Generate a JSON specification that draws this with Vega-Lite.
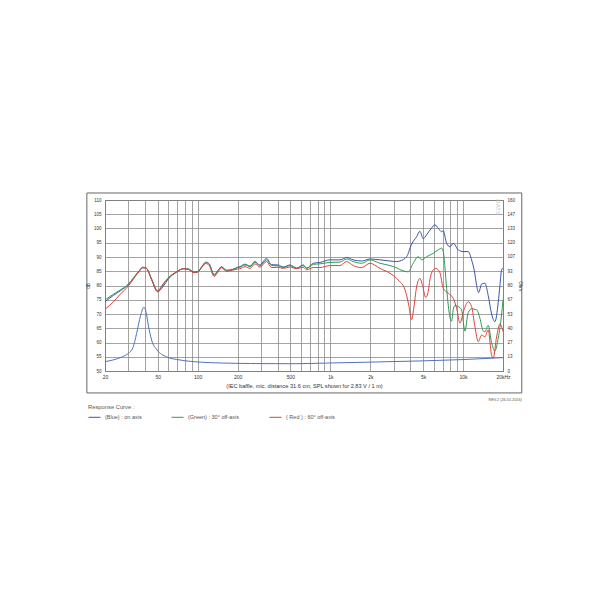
{
  "$schema": "https://vega.github.io/schema/vega-lite/v6.json",
  "width": 398,
  "height": 171,
  "autosize": {"type": "none"},
  "padding": {"left": 105, "top": 200, "right": 107, "bottom": 239},
  "background": "white",
  "config": {
    "view": {"stroke": "#555", "strokeWidth": 1},
    "font": "Liberation Sans",
    "axis": {"labelFont": "Liberation Sans", "titleFont": "Liberation Sans", "labelColor": "#333", "titleColor": "#333", "titleFontWeight": "normal", "ticks": false, "domain": false}
  },
  "datasets": {
    "spl": [
      {"f": 20, "v": 74.3, "s": "(Blue) : on axis"}, {"f": 23.1, "v": 76.5, "s": "(Blue) : on axis"}, {"f": 26, "v": 78.1, "s": "(Blue) : on axis"}, {"f": 30, "v": 80.4, "s": "(Blue) : on axis"}, {"f": 33, "v": 82.8, "s": "(Blue) : on axis"}, {"f": 36, "v": 85, "s": "(Blue) : on axis"}, {"f": 38.5, "v": 86.4, "s": "(Blue) : on axis"}, {"f": 41, "v": 86.1, "s": "(Blue) : on axis"}, {"f": 44.9, "v": 82, "s": "(Blue) : on axis"}, {"f": 49.8, "v": 77.8, "s": "(Blue) : on axis"}, {"f": 54.7, "v": 79.6, "s": "(Blue) : on axis"}, {"f": 60, "v": 82.3, "s": "(Blue) : on axis"}, {"f": 69, "v": 84.6, "s": "(Blue) : on axis"}, {"f": 78, "v": 85.9, "s": "(Blue) : on axis"}, {"f": 85, "v": 85.8, "s": "(Blue) : on axis"}, {"f": 94, "v": 84.7, "s": "(Blue) : on axis"}, {"f": 100, "v": 84.9, "s": "(Blue) : on axis"}, {"f": 108, "v": 86.8, "s": "(Blue) : on axis"}, {"f": 115, "v": 88.2, "s": "(Blue) : on axis"}, {"f": 122, "v": 87.6, "s": "(Blue) : on axis"}, {"f": 133, "v": 83.6, "s": "(Blue) : on axis"}, {"f": 142, "v": 85.2, "s": "(Blue) : on axis"}, {"f": 151, "v": 86.6, "s": "(Blue) : on axis"}, {"f": 165, "v": 85.2, "s": "(Blue) : on axis"}, {"f": 184, "v": 85.7, "s": "(Blue) : on axis"}, {"f": 200, "v": 86.4, "s": "(Blue) : on axis"}, {"f": 208, "v": 86.6, "s": "(Blue) : on axis"}, {"f": 227, "v": 87.5, "s": "(Blue) : on axis"}, {"f": 248, "v": 86.8, "s": "(Blue) : on axis"}, {"f": 270, "v": 88.4, "s": "(Blue) : on axis"}, {"f": 294, "v": 87.2, "s": "(Blue) : on axis"}, {"f": 330, "v": 89.5, "s": "(Blue) : on axis"}, {"f": 360, "v": 87.3, "s": "(Blue) : on axis"}, {"f": 404, "v": 87.2, "s": "(Blue) : on axis"}, {"f": 441, "v": 86.5, "s": "(Blue) : on axis"}, {"f": 496, "v": 87.2, "s": "(Blue) : on axis"}, {"f": 557, "v": 86.1, "s": "(Blue) : on axis"}, {"f": 624, "v": 87.2, "s": "(Blue) : on axis"}, {"f": 662, "v": 86.1, "s": "(Blue) : on axis"}, {"f": 743, "v": 87.8, "s": "(Blue) : on axis"}, {"f": 834, "v": 88.1, "s": "(Blue) : on axis"}, {"f": 992, "v": 89, "s": "(Blue) : on axis"}, {"f": 1180, "v": 89, "s": "(Blue) : on axis"}, {"f": 1326, "v": 89.8, "s": "(Blue) : on axis"}, {"f": 1486, "v": 89, "s": "(Blue) : on axis"}, {"f": 1720, "v": 88.6, "s": "(Blue) : on axis"}, {"f": 1986, "v": 89.3, "s": "(Blue) : on axis"}, {"f": 2363, "v": 89, "s": "(Blue) : on axis"}, {"f": 2811, "v": 88.6, "s": "(Blue) : on axis"}, {"f": 3156, "v": 88.4, "s": "(Blue) : on axis"}, {"f": 3342, "v": 88.6, "s": "(Blue) : on axis"}, {"f": 3755, "v": 90.1, "s": "(Blue) : on axis"}, {"f": 4094, "v": 94.5, "s": "(Blue) : on axis"}, {"f": 4464, "v": 97.1, "s": "(Blue) : on axis"}, {"f": 4730, "v": 99, "s": "(Blue) : on axis"}, {"f": 5008, "v": 96.4, "s": "(Blue) : on axis"}, {"f": 5313, "v": 97.8, "s": "(Blue) : on axis"}, {"f": 5795, "v": 100.2, "s": "(Blue) : on axis"}, {"f": 6136, "v": 101.3, "s": "(Blue) : on axis"}, {"f": 6498, "v": 100.1, "s": "(Blue) : on axis"}, {"f": 6893, "v": 98.9, "s": "(Blue) : on axis"}, {"f": 7087, "v": 99.2, "s": "(Blue) : on axis"}, {"f": 7518, "v": 94.8, "s": "(Blue) : on axis"}, {"f": 7960, "v": 93.6, "s": "(Blue) : on axis"}, {"f": 8430, "v": 94.8, "s": "(Blue) : on axis"}, {"f": 9195, "v": 92.5, "s": "(Blue) : on axis"}, {"f": 10025, "v": 91.9, "s": "(Blue) : on axis"}, {"f": 10935, "v": 91.9, "s": "(Blue) : on axis"}, {"f": 11600, "v": 89, "s": "(Blue) : on axis"}, {"f": 12285, "v": 84, "s": "(Blue) : on axis"}, {"f": 12650, "v": 80, "s": "(Blue) : on axis"}, {"f": 13100, "v": 77.5, "s": "(Blue) : on axis"}, {"f": 13800, "v": 80.5, "s": "(Blue) : on axis"}, {"f": 14615, "v": 80.8, "s": "(Blue) : on axis"}, {"f": 15470, "v": 76.5, "s": "(Blue) : on axis"}, {"f": 16410, "v": 70, "s": "(Blue) : on axis"}, {"f": 17380, "v": 67.3, "s": "(Blue) : on axis"}, {"f": 18405, "v": 74, "s": "(Blue) : on axis"}, {"f": 18960, "v": 80, "s": "(Blue) : on axis"}, {"f": 19530, "v": 85.5, "s": "(Blue) : on axis"}, {"f": 20000, "v": 86.2, "s": "(Blue) : on axis"},
      {"f": 20, "v": 75, "s": "(Green) : 30° off-axis"}, {"f": 23.1, "v": 76.9, "s": "(Green) : 30° off-axis"}, {"f": 26, "v": 78.4, "s": "(Green) : 30° off-axis"}, {"f": 30, "v": 80.5, "s": "(Green) : 30° off-axis"}, {"f": 33, "v": 82.8, "s": "(Green) : 30° off-axis"}, {"f": 36, "v": 85, "s": "(Green) : 30° off-axis"}, {"f": 38.5, "v": 86.3, "s": "(Green) : 30° off-axis"}, {"f": 41, "v": 86, "s": "(Green) : 30° off-axis"}, {"f": 44.9, "v": 82.3, "s": "(Green) : 30° off-axis"}, {"f": 49.8, "v": 78.2, "s": "(Green) : 30° off-axis"}, {"f": 54.7, "v": 80.2, "s": "(Green) : 30° off-axis"}, {"f": 60, "v": 82.6, "s": "(Green) : 30° off-axis"}, {"f": 69, "v": 84.7, "s": "(Green) : 30° off-axis"}, {"f": 78, "v": 85.9, "s": "(Green) : 30° off-axis"}, {"f": 85, "v": 85.7, "s": "(Green) : 30° off-axis"}, {"f": 94, "v": 84.6, "s": "(Green) : 30° off-axis"}, {"f": 100, "v": 84.8, "s": "(Green) : 30° off-axis"}, {"f": 108, "v": 86.7, "s": "(Green) : 30° off-axis"}, {"f": 115, "v": 88, "s": "(Green) : 30° off-axis"}, {"f": 122, "v": 87.4, "s": "(Green) : 30° off-axis"}, {"f": 133, "v": 83.9, "s": "(Green) : 30° off-axis"}, {"f": 142, "v": 85.3, "s": "(Green) : 30° off-axis"}, {"f": 151, "v": 86.5, "s": "(Green) : 30° off-axis"}, {"f": 165, "v": 85.4, "s": "(Green) : 30° off-axis"}, {"f": 184, "v": 85.6, "s": "(Green) : 30° off-axis"}, {"f": 200, "v": 86.3, "s": "(Green) : 30° off-axis"}, {"f": 208, "v": 86.4, "s": "(Green) : 30° off-axis"}, {"f": 227, "v": 87.2, "s": "(Green) : 30° off-axis"}, {"f": 248, "v": 86.6, "s": "(Green) : 30° off-axis"}, {"f": 270, "v": 88.2, "s": "(Green) : 30° off-axis"}, {"f": 294, "v": 86.9, "s": "(Green) : 30° off-axis"}, {"f": 330, "v": 89, "s": "(Green) : 30° off-axis"}, {"f": 360, "v": 87, "s": "(Green) : 30° off-axis"}, {"f": 404, "v": 86.9, "s": "(Green) : 30° off-axis"}, {"f": 441, "v": 86.3, "s": "(Green) : 30° off-axis"}, {"f": 496, "v": 87, "s": "(Green) : 30° off-axis"}, {"f": 557, "v": 86, "s": "(Green) : 30° off-axis"}, {"f": 624, "v": 87, "s": "(Green) : 30° off-axis"}, {"f": 662, "v": 86, "s": "(Green) : 30° off-axis"}, {"f": 743, "v": 87.4, "s": "(Green) : 30° off-axis"}, {"f": 834, "v": 87.6, "s": "(Green) : 30° off-axis"}, {"f": 992, "v": 88.1, "s": "(Green) : 30° off-axis"}, {"f": 1180, "v": 88.2, "s": "(Green) : 30° off-axis"}, {"f": 1326, "v": 89.3, "s": "(Green) : 30° off-axis"}, {"f": 1486, "v": 88.4, "s": "(Green) : 30° off-axis"}, {"f": 1720, "v": 87.8, "s": "(Green) : 30° off-axis"}, {"f": 1986, "v": 89, "s": "(Green) : 30° off-axis"}, {"f": 2363, "v": 87.8, "s": "(Green) : 30° off-axis"}, {"f": 2811, "v": 87, "s": "(Green) : 30° off-axis"}, {"f": 3156, "v": 86.2, "s": "(Green) : 30° off-axis"}, {"f": 3342, "v": 85.6, "s": "(Green) : 30° off-axis"}, {"f": 3861, "v": 84.8, "s": "(Green) : 30° off-axis"}, {"f": 4210, "v": 87.8, "s": "(Green) : 30° off-axis"}, {"f": 4592, "v": 90.1, "s": "(Green) : 30° off-axis"}, {"f": 4872, "v": 89, "s": "(Green) : 30° off-axis"}, {"f": 5313, "v": 90.1, "s": "(Green) : 30° off-axis"}, {"f": 5958, "v": 91.3, "s": "(Green) : 30° off-axis"}, {"f": 6498, "v": 92.5, "s": "(Green) : 30° off-axis"}, {"f": 6893, "v": 93.1, "s": "(Green) : 30° off-axis"}, {"f": 7087, "v": 92, "s": "(Green) : 30° off-axis"}, {"f": 7299, "v": 86.5, "s": "(Green) : 30° off-axis"}, {"f": 7518, "v": 79, "s": "(Green) : 30° off-axis"}, {"f": 7960, "v": 69, "s": "(Green) : 30° off-axis"}, {"f": 8199, "v": 67.5, "s": "(Green) : 30° off-axis"}, {"f": 8430, "v": 71.5, "s": "(Green) : 30° off-axis"}, {"f": 8682, "v": 73, "s": "(Green) : 30° off-axis"}, {"f": 9195, "v": 72.6, "s": "(Green) : 30° off-axis"}, {"f": 9750, "v": 71.4, "s": "(Green) : 30° off-axis"}, {"f": 10325, "v": 64, "s": "(Green) : 30° off-axis"}, {"f": 10935, "v": 70.5, "s": "(Green) : 30° off-axis"}, {"f": 11600, "v": 71.8, "s": "(Green) : 30° off-axis"}, {"f": 12650, "v": 71.5, "s": "(Green) : 30° off-axis"}, {"f": 13400, "v": 68.5, "s": "(Green) : 30° off-axis"}, {"f": 14190, "v": 64, "s": "(Green) : 30° off-axis"}, {"f": 14615, "v": 63.8, "s": "(Green) : 30° off-axis"}, {"f": 15470, "v": 66, "s": "(Green) : 30° off-axis"}, {"f": 16410, "v": 60, "s": "(Green) : 30° off-axis"}, {"f": 17380, "v": 57, "s": "(Green) : 30° off-axis"}, {"f": 18405, "v": 61.5, "s": "(Green) : 30° off-axis"}, {"f": 19530, "v": 70, "s": "(Green) : 30° off-axis"}, {"f": 20000, "v": 75, "s": "(Green) : 30° off-axis"},
      {"f": 20, "v": 71.7, "s": "( Red ) : 60° off-axis"}, {"f": 23.1, "v": 74.2, "s": "( Red ) : 60° off-axis"}, {"f": 26, "v": 76.9, "s": "( Red ) : 60° off-axis"}, {"f": 30, "v": 79.8, "s": "( Red ) : 60° off-axis"}, {"f": 33, "v": 82.5, "s": "( Red ) : 60° off-axis"}, {"f": 36, "v": 84.8, "s": "( Red ) : 60° off-axis"}, {"f": 38.5, "v": 86.2, "s": "( Red ) : 60° off-axis"}, {"f": 41, "v": 86, "s": "( Red ) : 60° off-axis"}, {"f": 44.9, "v": 82.2, "s": "( Red ) : 60° off-axis"}, {"f": 49.8, "v": 78, "s": "( Red ) : 60° off-axis"}, {"f": 54.7, "v": 80.5, "s": "( Red ) : 60° off-axis"}, {"f": 60, "v": 82.7, "s": "( Red ) : 60° off-axis"}, {"f": 69, "v": 84.8, "s": "( Red ) : 60° off-axis"}, {"f": 78, "v": 85.9, "s": "( Red ) : 60° off-axis"}, {"f": 85, "v": 85.6, "s": "( Red ) : 60° off-axis"}, {"f": 94, "v": 84.5, "s": "( Red ) : 60° off-axis"}, {"f": 100, "v": 84.7, "s": "( Red ) : 60° off-axis"}, {"f": 108, "v": 86.5, "s": "( Red ) : 60° off-axis"}, {"f": 115, "v": 87.7, "s": "( Red ) : 60° off-axis"}, {"f": 122, "v": 87, "s": "( Red ) : 60° off-axis"}, {"f": 133, "v": 83.2, "s": "( Red ) : 60° off-axis"}, {"f": 142, "v": 84.7, "s": "( Red ) : 60° off-axis"}, {"f": 151, "v": 86.2, "s": "( Red ) : 60° off-axis"}, {"f": 165, "v": 85, "s": "( Red ) : 60° off-axis"}, {"f": 184, "v": 85.4, "s": "( Red ) : 60° off-axis"}, {"f": 200, "v": 85.8, "s": "( Red ) : 60° off-axis"}, {"f": 208, "v": 85.9, "s": "( Red ) : 60° off-axis"}, {"f": 227, "v": 86.6, "s": "( Red ) : 60° off-axis"}, {"f": 248, "v": 86, "s": "( Red ) : 60° off-axis"}, {"f": 270, "v": 87.6, "s": "( Red ) : 60° off-axis"}, {"f": 294, "v": 86.4, "s": "( Red ) : 60° off-axis"}, {"f": 330, "v": 88.4, "s": "( Red ) : 60° off-axis"}, {"f": 360, "v": 86.3, "s": "( Red ) : 60° off-axis"}, {"f": 404, "v": 86.4, "s": "( Red ) : 60° off-axis"}, {"f": 441, "v": 86, "s": "( Red ) : 60° off-axis"}, {"f": 496, "v": 86.5, "s": "( Red ) : 60° off-axis"}, {"f": 557, "v": 85.9, "s": "( Red ) : 60° off-axis"}, {"f": 624, "v": 86.4, "s": "( Red ) : 60° off-axis"}, {"f": 662, "v": 85.5, "s": "( Red ) : 60° off-axis"}, {"f": 743, "v": 86.3, "s": "( Red ) : 60° off-axis"}, {"f": 834, "v": 86.3, "s": "( Red ) : 60° off-axis"}, {"f": 992, "v": 87, "s": "( Red ) : 60° off-axis"}, {"f": 1180, "v": 87, "s": "( Red ) : 60° off-axis"}, {"f": 1326, "v": 88.4, "s": "( Red ) : 60° off-axis"}, {"f": 1486, "v": 87, "s": "( Red ) : 60° off-axis"}, {"f": 1720, "v": 86.3, "s": "( Red ) : 60° off-axis"}, {"f": 1986, "v": 87.8, "s": "( Red ) : 60° off-axis"}, {"f": 2363, "v": 86, "s": "( Red ) : 60° off-axis"}, {"f": 2811, "v": 84.3, "s": "( Red ) : 60° off-axis"}, {"f": 3156, "v": 82.5, "s": "( Red ) : 60° off-axis"}, {"f": 3342, "v": 81.3, "s": "( Red ) : 60° off-axis"}, {"f": 3540, "v": 80, "s": "( Red ) : 60° off-axis"}, {"f": 3755, "v": 76.5, "s": "( Red ) : 60° off-axis"}, {"f": 3900, "v": 73, "s": "( Red ) : 60° off-axis"}, {"f": 4094, "v": 68, "s": "( Red ) : 60° off-axis"}, {"f": 4250, "v": 72, "s": "( Red ) : 60° off-axis"}, {"f": 4464, "v": 79.5, "s": "( Red ) : 60° off-axis"}, {"f": 4730, "v": 82.5, "s": "( Red ) : 60° off-axis"}, {"f": 4950, "v": 80, "s": "( Red ) : 60° off-axis"}, {"f": 5230, "v": 75.8, "s": "( Red ) : 60° off-axis"}, {"f": 5463, "v": 78, "s": "( Red ) : 60° off-axis"}, {"f": 5625, "v": 82, "s": "( Red ) : 60° off-axis"}, {"f": 5958, "v": 85.5, "s": "( Red ) : 60° off-axis"}, {"f": 6230, "v": 86, "s": "( Red ) : 60° off-axis"}, {"f": 6692, "v": 84.5, "s": "( Red ) : 60° off-axis"}, {"f": 7087, "v": 79, "s": "( Red ) : 60° off-axis"}, {"f": 7730, "v": 77.3, "s": "( Red ) : 60° off-axis"}, {"f": 8430, "v": 75.5, "s": "( Red ) : 60° off-axis"}, {"f": 8943, "v": 72, "s": "( Red ) : 60° off-axis"}, {"f": 9470, "v": 66.8, "s": "( Red ) : 60° off-axis"}, {"f": 10150, "v": 71.4, "s": "( Red ) : 60° off-axis"}, {"f": 10935, "v": 74.3, "s": "( Red ) : 60° off-axis"}, {"f": 11600, "v": 72.6, "s": "( Red ) : 60° off-axis"}, {"f": 12285, "v": 65.6, "s": "( Red ) : 60° off-axis"}, {"f": 13010, "v": 60.3, "s": "( Red ) : 60° off-axis"}, {"f": 13800, "v": 62.6, "s": "( Red ) : 60° off-axis"}, {"f": 14615, "v": 62, "s": "( Red ) : 60° off-axis"}, {"f": 15470, "v": 64.4, "s": "( Red ) : 60° off-axis"}, {"f": 16410, "v": 55.5, "s": "( Red ) : 60° off-axis"}, {"f": 16880, "v": 54.5, "s": "( Red ) : 60° off-axis"}, {"f": 17900, "v": 62, "s": "( Red ) : 60° off-axis"}, {"f": 18960, "v": 66.5, "s": "( Red ) : 60° off-axis"}, {"f": 20000, "v": 63.8, "s": "( Red ) : 60° off-axis"}
    ],
    "imp": [
      {"f": 20, "z": 8.8}, {"f": 23.1, "z": 10.4}, {"f": 27, "z": 13.3}, {"f": 30, "z": 16.5}, {"f": 32.5, "z": 22}, {"f": 34.6, "z": 35}, {"f": 37.1, "z": 52}, {"f": 39.3, "z": 59.7}, {"f": 40.8, "z": 55}, {"f": 42.4, "z": 43}, {"f": 44.9, "z": 29}, {"f": 49.4, "z": 19.7}, {"f": 58, "z": 13.3}, {"f": 73.6, "z": 10.3}, {"f": 104.5, "z": 8.3}, {"f": 150, "z": 7.5}, {"f": 250, "z": 7}, {"f": 500, "z": 6.8}, {"f": 1000, "z": 7.5}, {"f": 2000, "z": 8.3}, {"f": 5000, "z": 9.5}, {"f": 10000, "z": 10.7}, {"f": 20000, "z": 12.5}
    ],
    "one": [{}]
  },
  "layer": [
    {
      "data": {"name": "spl"},
      "mark": {"type": "line", "strokeWidth": 1, "interpolate": "monotone"},
      "encoding": {
        "x": {
          "field": "f", "type": "quantitative",
          "scale": {"type": "log", "domain": [20, 20000], "nice": false},
          "axis": {
            "values": [20, 30, 40, 50, 60, 70, 80, 90, 100, 200, 300, 400, 500, 600, 700, 800, 900, 1000, 2000, 3000, 4000, 5000, 6000, 7000, 8000, 9000, 10000, 20000],
            "labelExpr": "datum.value == 20 ? '20' : datum.value == 50 ? '50' : datum.value == 100 ? '100' : datum.value == 200 ? '200' : datum.value == 500 ? '500' : datum.value == 1000 ? '1k' : datum.value == 2000 ? '2k' : datum.value == 5000 ? '5k' : datum.value == 10000 ? '10k' : datum.value == 20000 ? '20kHz' : ''",
            "labelOverlap": false, "labelFlush": false, "labelFontSize": 5, "labelPadding": 3,
            "grid": true, "gridColor": "#8c8c8c", "gridWidth": 0.8,
            "title": "(IEC baffle, mic. distance 31.6 cm, SPL shown for 2.83 V / 1 m)",
            "titleFontSize": 5.6, "titlePadding": 4
          }
        },
        "y": {
          "field": "v", "type": "quantitative",
          "scale": {"domain": [50, 110], "nice": false, "zero": false},
          "axis": {
            "values": [50, 55, 60, 65, 70, 75, 80, 85, 90, 95, 100, 105, 110],
            "labelFontSize": 4.5, "labelPadding": 4, "grid": true, "gridColor": "#8c8c8c", "gridWidth": 0.8,
            "title": "dB", "titleFontSize": 4.5, "titlePadding": 3
          }
        },
        "color": {
          "field": "s", "type": "nominal",
          "scale": {"domain": ["(Blue) : on axis", "(Green) : 30° off-axis", "( Red ) : 60° off-axis"], "range": ["#3a55a4", "#2f9a52", "#e2403a"]},
          "legend": {
            "orient": "none", "legendX": -17, "legendY": 204, "direction": "horizontal",
            "title": "Response Curve :", "titleFontSize": 5.8, "titleFontWeight": "normal", "titleColor": "#555", "titleOrient": "top", "titlePadding": 1,
            "labelFontSize": 5.5, "labelColor": "#555", "labelOffset": 4,
            "symbolType": "stroke", "symbolSize": 144, "symbolStrokeWidth": 1, "columnPadding": 27, "padding": 0
          }
        }
      }
    },
    {
      "data": {"name": "imp"},
      "mark": {"type": "line", "strokeWidth": 1, "color": "#4f72c4", "interpolate": "monotone"},
      "encoding": {
        "x": {"field": "f", "type": "quantitative", "scale": {"type": "log", "domain": [20, 20000], "nice": false}, "axis": null},
        "y": {
          "field": "z", "type": "quantitative",
          "scale": {"domain": [0, 160], "nice": false},
          "axis": {
            "orient": "right",
            "values": [0, 13.3333, 26.6667, 40, 53.3333, 66.6667, 80, 93.3333, 106.6667, 120, 133.3333, 146.6667, 160],
            "format": ".0f", "labelFontSize": 4.5, "labelPadding": 4, "grid": false,
            "title": "Ohm", "titleFontSize": 4.5, "titlePadding": 3
          }
        }
      }
    },
    {
      "data": {"name": "one"},
      "mark": {"type": "text", "angle": 90, "fontSize": 6, "color": "#bbb", "align": "center", "baseline": "middle"},
      "encoding": {
        "x": {"datum": 18300, "type": "quantitative", "scale": {"type": "log", "domain": [20, 20000], "nice": false}, "axis": null},
        "y": {"datum": 107.5, "type": "quantitative", "scale": {"domain": [50, 110], "nice": false, "zero": false}, "axis": null},
        "text": {"value": "DATS"}
      }
    },
    {
      "data": {"name": "one"},
      "mark": {"type": "text", "fontSize": 3.8, "color": "#555", "align": "right", "baseline": "middle"},
      "encoding": {
        "x": {"datum": 27700, "type": "quantitative", "scale": {"type": "log", "domain": [20, 20000], "nice": false}, "axis": null},
        "y": {"datum": 39.8, "type": "quantitative", "scale": {"domain": [50, 110], "nice": false, "zero": false}, "axis": null},
        "text": {"value": "REV.2 (26.01.2016)"}
      }
    },
    {
      "data": {"name": "one"},
      "mark": {"type": "rect", "fillOpacity": 0, "stroke": "#666", "strokeWidth": 1},
      "encoding": {
        "x": {"datum": 14.6, "type": "quantitative", "scale": {"type": "log", "domain": [20, 20000], "nice": false}, "axis": null},
        "x2": {"datum": 27700},
        "y": {"datum": 112.46, "type": "quantitative", "scale": {"domain": [50, 110], "nice": false, "zero": false}, "axis": null},
        "y2": {"datum": 42.3}
      }
    }
  ],
  "resolve": {"scale": {"y": "independent"}, "axis": {"x": "independent"}}
}
